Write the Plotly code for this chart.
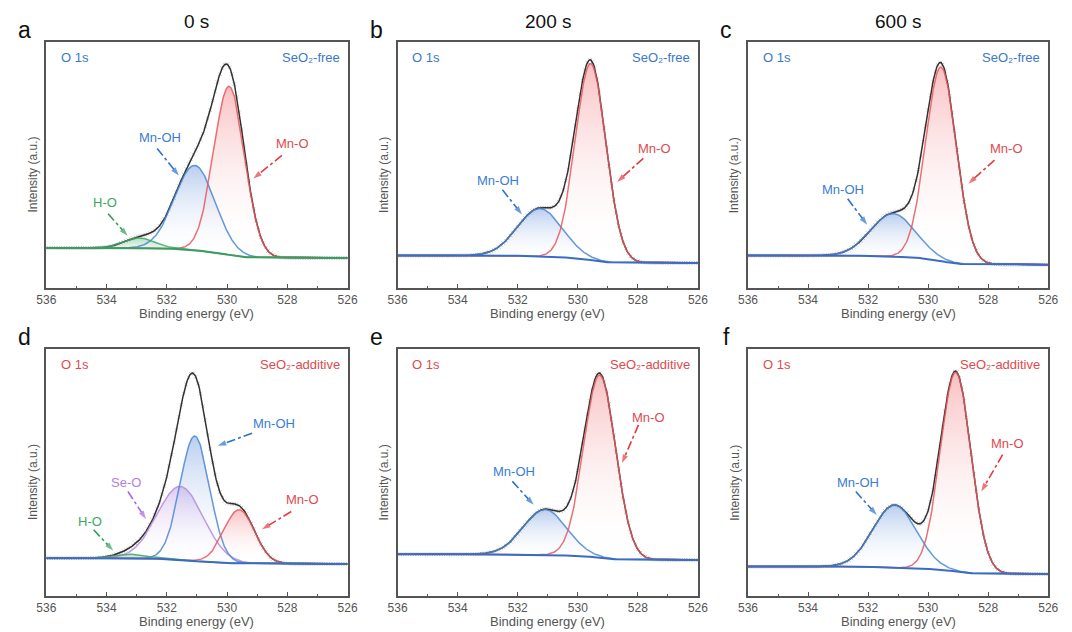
import numpy as np
import plotly.graph_objects as go

# ---------------- data ----------------
panel_tags = ["a", "b", "c", "d", "e", "f"]
column_titles = ["0 s", "200 s", "600 s"]
sample_tags = ["SeO₂-free"] * 3 + ["SeO₂-additive"] * 3
energy_ticks = [536, 534, 532, 530, 528, 526]

# fitted O 1s components: centre (eV), height (a.u.), FWHM (eV); None = not fitted
mno_center = [529.93, 529.57, 529.57, 529.60, 529.27, 529.08]
mno_height = [68.5, 79.9, 78.9, 21.7, 74.0, 80.6]
mno_fwhm = [1.20, 1.20, 1.20, 1.20, 1.25, 1.20]

mnoh_center = [531.07, 531.26, 531.16, 531.07, 531.09, 531.11]
mnoh_height = [34.5, 19.5, 17.5, 50.6, 18.4, 25.4]
mnoh_fwhm = [1.57, 1.75, 1.75, 1.15, 1.70, 1.70]

seo_center = [None, None, None, 531.55, None, None]
seo_height = [None, None, None, 29.7, None, None]
seo_fwhm = [None, None, None, 1.80, None, None]

ho_center = [532.90, None, None, 533.20, None, None]
ho_height = [4.1, None, None, 1.6, None, None]
ho_fwhm = [1.20, None, None, 1.20, None, None]

# Shirley background end levels (high binding-energy side, low side)
bg_high = [16.3, 13.2, 13.2, 15.3, 16.9, 11.9]
bg_low = [12.2, 10.2, 9.5, 13.0, 14.6, 8.9]

# peak labels with dash-dot arrows
label_panel = [0, 0, 0, 1, 1, 2, 2, 3, 3, 3, 3, 4, 4, 5, 5]
label_text = ["Mn-O", "Mn-OH", "H-O", "Mn-O", "Mn-OH", "Mn-O", "Mn-OH",
              "Mn-OH", "Mn-O", "Se-O", "H-O", "Mn-O", "Mn-OH", "Mn-O", "Mn-OH"]
label_x = [527.82, 532.22, 534.05, 527.44, 532.67, 527.38, 532.85,
           528.43, 527.49, 533.34, 534.54, 527.66, 532.11, 527.36, 532.34]
label_y = [58.8, 61.2, 34.7, 56.7, 43.5, 56.7, 40.1,
           69.7, 38.9, 46.1, 30.1, 72.4, 50.4, 61.6, 46.1]
arrow_x0 = [528.18, 532.32, 533.95, 527.82, 532.51, 527.79, 532.68,
            529.17, 527.87, 533.29, 534.43, 527.98, 532.18, 527.52, 532.41]
arrow_y0 = [53.9, 56.7, 30.2, 52.7, 39.9, 52.0, 36.3,
            65.9, 34.2, 42.3, 26.8, 69.3, 46.4, 57.2, 42.3]
arrow_x1 = [529.13, 531.60, 533.30, 528.69, 531.86, 528.66, 532.03,
            530.31, 528.84, 532.69, 533.78, 528.53, 531.47, 528.23, 531.71]
arrow_y1 = [44.5, 45.7, 21.2, 43.1, 29.9, 42.4, 25.7,
            60.8, 27.0, 31.1, 18.4, 53.8, 36.9, 42.3, 32.8]

# ---------------- styling ----------------
W, H = 1072, 632
FONT = "Liberation Sans, Arial, DejaVu Sans, sans-serif"
AXIS_GREY = "#555555"
comp_line = {"Mn-O": "#e8585d", "Mn-OH": "#4a88d6", "Se-O": "#b98ae0", "H-O": "#3faa68"}
comp_fill = {"Mn-O": "rgba(240,105,110,0.42)", "Mn-OH": "rgba(80,132,215,0.40)",
             "Se-O": "rgba(180,128,222,0.42)", "H-O": "rgba(70,175,110,0.42)"}
label_color = {"Mn-O": "#e04a4e", "Mn-OH": "#3a7dd4", "Se-O": "#b57ee0", "H-O": "#3aa860"}
arrow_color = {"Mn-O": "#e43c40", "Mn-OH": "#2f72cf", "Se-O": "#a868e0", "H-O": "#2f9e58"}
tag_color = ["#3b78c9"] * 3 + ["#e04a4e"] * 3

# panel frames in pixels: (left, right, top, bottom)
col_px = [(37, 344), (395, 701), (752, 1058)]
row_px = [(42, 288), (349, 596)]


def px_x(p):
    return p / W


def px_y(p):
    return 1 - p / H


def gauss(x, c, h, w):
    return h * np.exp(-4 * np.log(2) * (x - c) ** 2 / w ** 2)


grid = np.round(np.arange(526.0, 536.0001, 0.02), 4)

fig = go.Figure()
annotations = []
layout_axes = {}

for i in range(6):
    r, c = divmod(i, 3)
    n = "" if i == 0 else str(i + 1)
    xa, ya = "x" + n, "y" + n

    comps = []
    for name, cen, hei, fw in [("Se-O", seo_center, seo_height, seo_fwhm),
                               ("Mn-OH", mnoh_center, mnoh_height, mnoh_fwhm),
                               ("Mn-O", mno_center, mno_height, mno_fwhm),
                               ("H-O", ho_center, ho_height, ho_fwhm)]:
        if cen[i] is not None:
            comps.append((name, gauss(grid, cen[i], hei[i], fw[i])))

    total = sum(p for _, p in comps)
    # Shirley-type step background
    cum = np.concatenate([[0], np.cumsum((total[1:] + total[:-1]) / 2 * np.diff(grid))])
    bg = bg_low[i] + (bg_high[i] - bg_low[i]) * cum / cum[-1]
    envelope = bg + total

    # gradient-filled component areas
    for name, p in comps:
        fig.add_trace(go.Scatter(
            x=np.concatenate([grid, grid[::-1]]),
            y=np.concatenate([bg + p, bg[::-1]]),
            fill="toself", mode="none", xaxis=xa, yaxis=ya, hoverinfo="skip",
            fillcolor=comp_fill[name],
            fillgradient=dict(type="vertical",
                              colorscale=[[0, "rgba(255,255,255,0)"], [1, comp_fill[name]]]),
            showlegend=False))

    # measured spectrum
    fig.add_trace(go.Scatter(
        x=grid[::4], y=envelope[::4], mode="markers", xaxis=xa, yaxis=ya,
        marker=dict(symbol="x-thin", size=3.5, line=dict(width=0.6, color="#a8a8a8")),
        hoverinfo="skip", showlegend=False))
    # fitted envelope
    fig.add_trace(go.Scatter(
        x=grid, y=envelope, mode="lines", xaxis=xa, yaxis=ya,
        line=dict(color="#333333", width=1.5), hoverinfo="skip", showlegend=False))
    # component outlines
    for name, p in comps:
        fig.add_trace(go.Scatter(
            x=grid, y=bg + p, mode="lines", xaxis=xa, yaxis=ya,
            line=dict(color=comp_line[name], width=1.5), opacity=0.85,
            hoverinfo="skip", showlegend=False))
    # background
    fig.add_trace(go.Scatter(
        x=grid, y=bg, mode="lines", xaxis=xa, yaxis=ya,
        line=dict(color="#3a9c62" if i == 0 else "#3b6cc4", width=2),
        hoverinfo="skip", showlegend=False))

    left, right = col_px[c]
    top, bottom = row_px[r]
    layout_axes["xaxis" + n] = dict(
        domain=[px_x(left), px_x(right)], range=[536, 526], anchor=ya,
        tickvals=energy_ticks, ticks="inside", ticklen=4, tickwidth=1, tickcolor=AXIS_GREY,
        minor=dict(ticks="inside", ticklen=2, tickwidth=1, tickcolor=AXIS_GREY,
                   dtick=1, tick0=527),
        showline=True, mirror=True, linecolor=AXIS_GREY, linewidth=1.5,
        showgrid=False, zeroline=False,
        tickfont=dict(family=FONT, size=12, color=AXIS_GREY))
    layout_axes["yaxis" + n] = dict(
        domain=[px_y(bottom), px_y(top)], range=[0, 100], anchor=xa,
        showticklabels=False, ticks="", showline=True, mirror=True,
        linecolor=AXIS_GREY, linewidth=1.5, showgrid=False, zeroline=False)

    # axis titles
    annotations.append(dict(
        text="Binding energy (eV)", x=px_x((left + right) / 2), y=px_y(bottom + 25),
        xref="paper", yref="paper", showarrow=False, xanchor="center", yanchor="middle",
        font=dict(family=FONT, size=13, color=AXIS_GREY)))
    annotations.append(dict(
        text="Intensity (a.u.)", x=px_x(left - 14), y=px_y((top + bottom) / 2 + 10),
        xref="paper", yref="paper", showarrow=False, textangle=-90,
        xanchor="center", yanchor="middle",
        font=dict(family=FONT, size=12, color=AXIS_GREY)))
    # in-panel tags
    annotations.append(dict(
        text="O 1s", x=px_x(left + 13), y=px_y(top + 15), xref="paper", yref="paper",
        showarrow=False, xanchor="left", yanchor="middle",
        font=dict(family=FONT, size=13, color=tag_color[i])))
    annotations.append(dict(
        text=sample_tags[i], x=px_x(right - 6), y=px_y(top + 15), xref="paper", yref="paper",
        showarrow=False, xanchor="right", yanchor="middle",
        font=dict(family=FONT, size=13, color=tag_color[i])))
    # panel letter
    annotations.append(dict(
        text=panel_tags[i], x=px_x(left - 22), y=px_y(top - 12), xref="paper", yref="paper",
        showarrow=False, xanchor="center", yanchor="middle",
        font=dict(family=FONT, size=23, color="#111111")))
    if r == 0:
        annotations.append(dict(
            text=column_titles[c], x=px_x((left + right) / 2), y=px_y(22),
            xref="paper", yref="paper", showarrow=False, xanchor="center", yanchor="middle",
            font=dict(family=FONT, size=19, color="#111111")))

# peak labels and dash-dot arrows
for k in range(len(label_text)):
    i = label_panel[k]
    n = "" if i == 0 else str(i + 1)
    name = label_text[k]
    annotations.append(dict(
        text=name, x=label_x[k], y=label_y[k], xref="x" + n, yref="y" + n,
        showarrow=False, xanchor="center", yanchor="middle",
        font=dict(family=FONT, size=13, color=label_color[name])))
    fig.add_trace(go.Scatter(
        x=[arrow_x0[k], arrow_x1[k]], y=[arrow_y0[k], arrow_y1[k]],
        mode="lines+markers", xaxis="x" + n, yaxis="y" + n,
        line=dict(color=arrow_color[name], width=1.6, dash="dashdot"),
        marker=dict(symbol="arrow", size=[0, 9], angleref="previous",
                    color=arrow_color[name], line=dict(width=0)),
        hoverinfo="skip", showlegend=False))

fig.update_layout(
    width=W, height=H, margin=dict(l=0, r=0, t=0, b=0),
    paper_bgcolor="white", plot_bgcolor="white",
    annotations=annotations, **layout_axes)

fig.write_html("out.html")
